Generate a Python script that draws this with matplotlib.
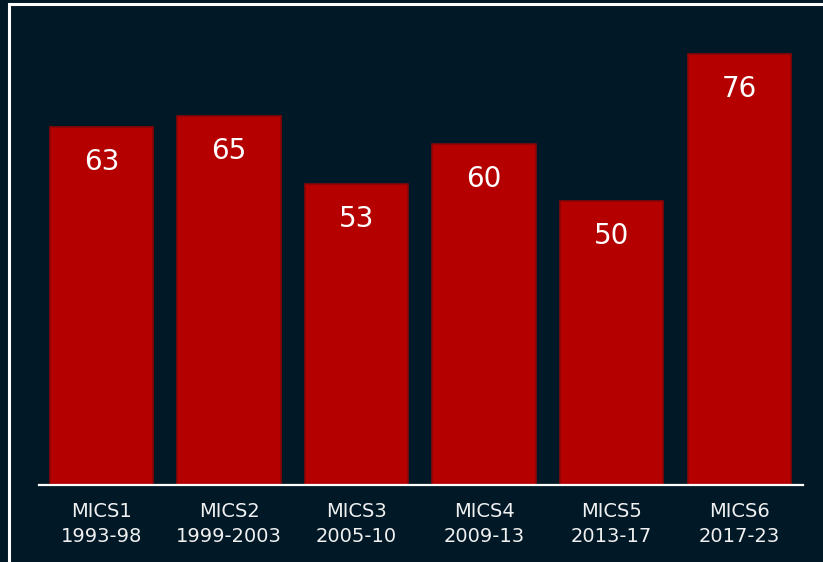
import matplotlib.pyplot as plt
from matplotlib.patches import Rectangle

# survey rounds and values
rounds = ["MICS1", "MICS2", "MICS3", "MICS4", "MICS5", "MICS6"]
periods = ["1993-98", "1999-2003", "2005-10", "2009-13", "2013-17", "2017-23"]
values = [63, 65, 53, 60, 50, 76]

bg = "#011827"
bar_col = "#b50000"

fig = plt.figure(figsize=(8.23, 5.62), dpi=100, facecolor=bg)
W, H = 823, 562
# axes: x from 39 to 803 px, baseline at y=485, top at y=31
ax = fig.add_axes([39 / W, (H - 485) / H, (803 - 39) / W, (485 - 31) / H])
ax.set_facecolor(bg)

x = list(range(len(values)))
ax.bar(x, values, width=0.81, color=bar_col, edgecolor="#8a0505", linewidth=1.2, zorder=2)

for xi, v in zip(x, values):
    ax.annotate(str(v), (xi, v), xytext=(0, -35), textcoords="offset pixels",
                ha="center", va="center", color="white", fontsize=20, zorder=3)

ax.set_xlim(-0.49, 5.5)
ax.set_ylim(0, 80)
ax.set_xticks(x)
ax.set_xticklabels([r + "\n" + p for r, p in zip(rounds, periods)], color="#f0f0f0",
                   fontsize=14, linespacing=1.42)
ax.tick_params(axis="x", length=0, pad=12)
ax.set_yticks([])
for s in ["top", "right", "left"]:
    ax.spines[s].set_visible(False)
ax.spines["bottom"].set_color("white")
ax.spines["bottom"].set_linewidth(1.6)

# white frame around the slide, open at right and bottom
fig.add_artist(Rectangle((9 / W, -0.1), 1.2, (H - 4) / H + 0.1, transform=fig.transFigure,
                         fill=False, edgecolor="white", linewidth=2.2))

fig.savefig("out.png", dpi=100, facecolor=bg)
